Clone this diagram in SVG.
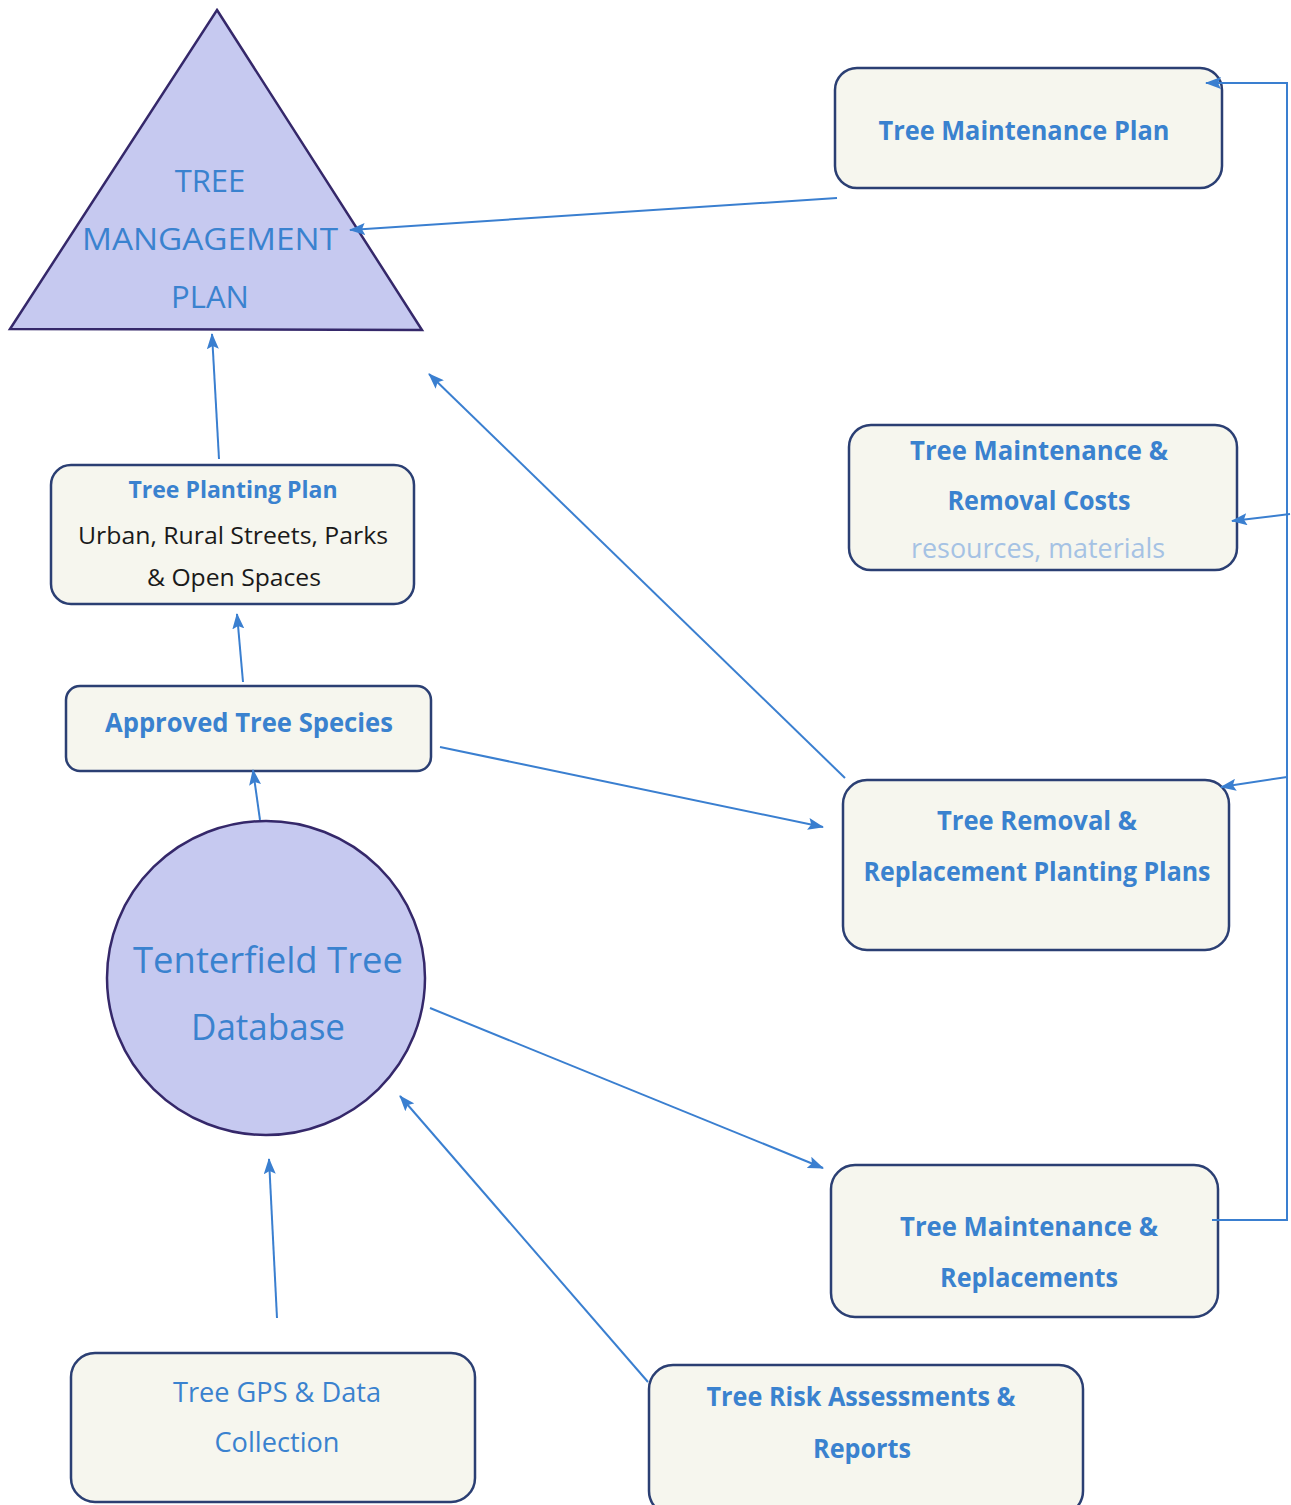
<svg xmlns="http://www.w3.org/2000/svg" width="1291" height="1505" viewBox="0 0 1291 1505">
<style>
.box{fill:#f6f6ee;stroke:#2b3f73;stroke-width:2.5}
.shape{fill:#c6c9f0;stroke:#35286a;stroke-width:2.5}
.t{font-family:"Open Sans","Liberation Sans",sans-serif;fill:#3a82cf;text-anchor:middle}
.b{font-weight:bold}
.k{fill:#1a1a1a}
.lt{fill:#a5c2e4}
.c{stroke:#3a7fd0;stroke-width:2;fill:none}
</style>
<defs>
<marker id="ah" viewBox="0 0 16 12" refX="15" refY="6" markerWidth="16" markerHeight="12" markerUnits="userSpaceOnUse" orient="auto">
<path d="M0,0 L16,6 L0,12 L3,6 z" fill="#3a7fd0"/>
</marker>
</defs>
<rect width="1291" height="1505" fill="#ffffff"/>

<g id="tree-management-plan">
<polygon class="shape" points="217,10 422,330 10,329"/>
<text class="t" x="210" y="192" font-size="31">TREE</text>
<text class="t" x="210" y="250" font-size="31" textLength="256" lengthAdjust="spacingAndGlyphs">MANGAGEMENT</text>
<text class="t" x="210" y="308" font-size="31">PLAN</text>
</g>

<g id="tree-maintenance-plan">
<rect class="box" x="835" y="68" width="387" height="120" rx="22"/>
<text class="t b" x="1024" y="140" font-size="27" textLength="291" lengthAdjust="spacingAndGlyphs">Tree Maintenance Plan</text>
</g>

<g id="maintenance-removal-costs">
<rect class="box" x="849" y="425" width="388" height="145" rx="22"/>
<text class="t b" x="1039" y="460" font-size="27" textLength="258" lengthAdjust="spacingAndGlyphs">Tree Maintenance &amp;</text>
<text class="t b" x="1039" y="510" font-size="27" textLength="183" lengthAdjust="spacingAndGlyphs">Removal Costs</text>
<text class="t lt" x="1038" y="558" font-size="27" textLength="254" lengthAdjust="spacingAndGlyphs">resources, materials</text>
</g>

<g id="tree-planting-plan">
<rect class="box" x="51" y="465" width="363" height="139" rx="20"/>
<text class="t b" x="233" y="498" font-size="24" textLength="209" lengthAdjust="spacingAndGlyphs">Tree Planting Plan</text>
<text class="t k" x="233" y="544" font-size="24" textLength="310" lengthAdjust="spacingAndGlyphs">Urban, Rural Streets, Parks</text>
<text class="t k" x="234" y="586" font-size="24" textLength="174" lengthAdjust="spacingAndGlyphs">&amp; Open Spaces</text>
</g>

<g id="approved-tree-species">
<rect class="box" x="66" y="686" width="365" height="85" rx="14"/>
<text class="t b" x="249" y="732" font-size="27" textLength="288" lengthAdjust="spacingAndGlyphs">Approved Tree Species</text>
</g>

<g id="removal-replacement-plans">
<rect class="box" x="843" y="780" width="386" height="170" rx="24"/>
<text class="t b" x="1037" y="830" font-size="27" textLength="200" lengthAdjust="spacingAndGlyphs">Tree Removal &amp;</text>
<text class="t b" x="1037" y="881" font-size="27" textLength="347" lengthAdjust="spacingAndGlyphs">Replacement Planting Plans</text>
</g>

<g id="tree-database">
<ellipse class="shape" cx="266" cy="978" rx="159" ry="157"/>
<text class="t" x="268" y="973" font-size="36" textLength="270" lengthAdjust="spacingAndGlyphs">Tenterfield Tree</text>
<text class="t" x="268" y="1040" font-size="36" textLength="154" lengthAdjust="spacingAndGlyphs">Database</text>
</g>

<g id="maintenance-replacements">
<rect class="box" x="831" y="1165" width="387" height="152" rx="24"/>
<text class="t b" x="1029" y="1236" font-size="27" textLength="258" lengthAdjust="spacingAndGlyphs">Tree Maintenance &amp;</text>
<text class="t b" x="1029" y="1287" font-size="27" textLength="178" lengthAdjust="spacingAndGlyphs">Replacements</text>
</g>

<g id="gps-data-collection">
<rect class="box" x="71" y="1353" width="404" height="149" rx="24"/>
<text class="t" x="277" y="1402" font-size="27" textLength="208" lengthAdjust="spacingAndGlyphs">Tree GPS &amp; Data</text>
<text class="t" x="277" y="1452" font-size="27" textLength="125" lengthAdjust="spacingAndGlyphs">Collection</text>
</g>

<g id="risk-assessments">
<rect class="box" x="649" y="1365" width="434" height="150" rx="24"/>
<text class="t b" x="861" y="1406" font-size="27" textLength="309" lengthAdjust="spacingAndGlyphs">Tree Risk Assessments &amp;</text>
<text class="t b" x="862" y="1458" font-size="27" textLength="98" lengthAdjust="spacingAndGlyphs">Reports</text>
</g>

<g id="connectors">
<line class="c" x1="837" y1="198" x2="350" y2="230" marker-end="url(#ah)"/>
<line class="c" x1="219" y1="459" x2="212" y2="334" marker-end="url(#ah)"/>
<line class="c" x1="243" y1="682" x2="237" y2="614" marker-end="url(#ah)"/>
<line class="c" x1="260" y1="820" x2="253" y2="770" marker-end="url(#ah)"/>
<line class="c" x1="845" y1="778" x2="429" y2="374" marker-end="url(#ah)"/>
<line class="c" x1="440" y1="747" x2="823" y2="827" marker-end="url(#ah)"/>
<line class="c" x1="430" y1="1008" x2="823" y2="1168" marker-end="url(#ah)"/>
<line class="c" x1="277" y1="1318" x2="269" y2="1159" marker-end="url(#ah)"/>
<line class="c" x1="648" y1="1382" x2="400" y2="1096" marker-end="url(#ah)"/>
<polyline class="c" points="1212,1220 1287,1220 1287,83 1206,83" marker-end="url(#ah)"/>
<line class="c" x1="1290" y1="514" x2="1232" y2="521" marker-end="url(#ah)"/>
<line class="c" x1="1287" y1="777" x2="1221" y2="787" marker-end="url(#ah)"/>
</g>
</svg>
